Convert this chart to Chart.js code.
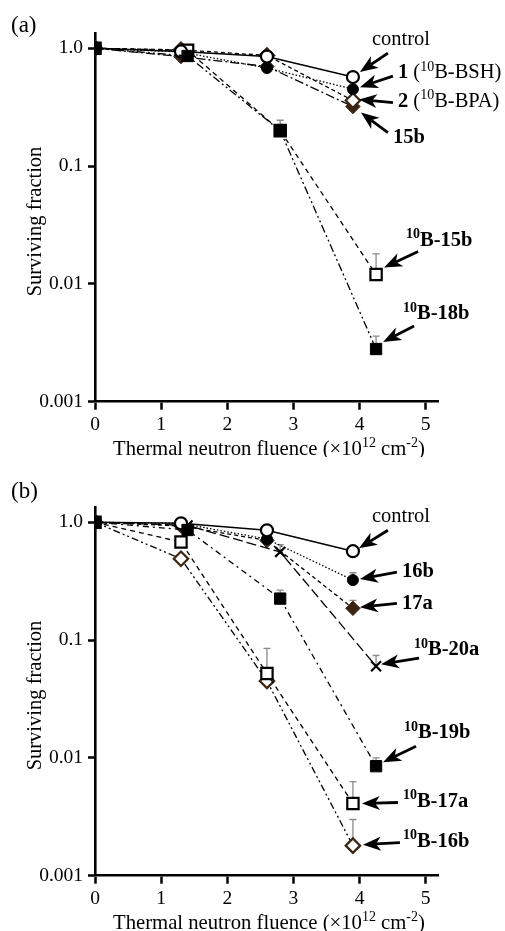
<!DOCTYPE html>
<html><head><meta charset="utf-8">
<script src="https://cdn.jsdelivr.net/npm/chart.js@4/dist/chart.umd.min.js"></script>
<style>
html,body{margin:0;padding:0;background:#fff;overflow:hidden;width:505px;height:931px;}
.panel{position:absolute;left:0;width:505px;height:457px;}
</style></head><body>
<div class="panel" style="top:0"><canvas id="ca"></canvas></div>
<div class="panel" style="top:474px"><canvas id="cb"></canvas></div>
<script>
// ---------- data ----------
const xTicks = [0, 1, 2, 3, 4, 5];
const yTicks = [0.001, 0.01, 0.1, 1];
const yTickLabels = ['0.001', '0.01', '0.1', '1.0'];
const xTitle = [['Thermal neutron fluence (\u00d710', ''], ['12', 's'], [' cm', ''], ['-2', 's'], [')', '']];
const yTitle = 'Surviving fraction';

const fluenceA = [0, 1.3, 2.6, 3.9];
const fluenceB = [0, 1.4, 2.8, 4.25];

// panel (a)
const aControl = [1, 0.94, 0.85, 0.57];
const aBSH     = [1, 0.93, 0.68, 0.45];
const aBPA     = [1, 0.97, 0.87, 0.36];
const a15b     = [1, 0.85, 0.70, 0.32];
const a10B15b  = [1, 0.96, 0.20, 0.012];
const a10B18b  = [1, 0.86, 0.20, 0.0028];
const a10B15bErr = [null, null, null, 0.018];
const a10B18bErr = [null, null, 0.245, 0.0036];

// panel (b)
const bControl = [1, 0.98, 0.855, 0.568];
const b16b     = [1, 0.98, 0.72, 0.323];
const b17a     = [1, 0.93, 0.70, 0.186];
const b10B20a  = [1, 0.94, 0.56, 0.060];
const b10B19b  = [1, 0.86, 0.225, 0.0085];
const b10B17a  = [1, 0.68, 0.052, 0.0041];
const b10B16b  = [1, 0.49, 0.045, 0.0018];
const b16bErr    = [null, null, null, 0.373];
const b17aErr    = [null, null, null, 0.217];
const b10B20aErr = [null, null, 0.647, 0.074];
const b10B19bErr = [null, null, 0.266, 0.0100];
const b10B17aErr = [null, null, 0.085, 0.0063];
const b10B16bErr = [null, null, null, 0.0030];

// series labels (rich text parts: [text, style]; style: '' normal, 'b' bold, 's' sup, 'bs' bold sup)
const lblControl = [['control', '']];
const lblBSH = [['1', 'b'], [' (', ''], ['10', 's'], ['B-BSH)', '']];
const lblBPA = [['2', 'b'], [' (', ''], ['10', 's'], ['B-BPA)', '']];
const lbl15b = [['15b', 'b']];
const lbl10B15b = [['10', 'bs'], ['B-15b', 'b']];
const lbl10B18b = [['10', 'bs'], ['B-18b', 'b']];
const lbl16b = [['16b', 'b']];
const lbl17a = [['17a', 'b']];
const lbl10B20a = [['10', 'bs'], ['B-20a', 'b']];
const lbl10B19b = [['10', 'bs'], ['B-19b', 'b']];
const lbl10B17a = [['10', 'bs'], ['B-17a', 'b']];
const lbl10B16b = [['10', 'bs'], ['B-16b', 'b']];

// ---------- styling ----------
const FONT = "'Liberation Serif', 'Times New Roman', serif";
const BROWN = '#3b2412';
const ERR = '#8a8a8a';
const LBL = 20.5, SUP = 14;

function pts(xs, ys) { return xs.map((x, i) => ({ x: x, y: ys[i] })); }

function ds(xs, ys, err, style, ann) {
  return Object.assign({
    data: pts(xs, ys),
    errTop: err,
    ann: ann,
    borderColor: '#000',
    borderWidth: 1.3,
    tension: 0,
    pointBorderWidth: 2,
    pointHoverRadius: 0,
    fill: false
  }, style);
}

const sOpenCircle = { pointStyle: 'circle', pointRadius: 6, pointBackgroundColor: '#fff', pointBorderColor: '#000', pointBorderWidth: 2.2 };
const sFillCircle = { pointStyle: 'circle', pointRadius: 5.5, pointBackgroundColor: '#000', pointBorderColor: '#000', pointBorderWidth: 1 };
const sOpenDiamond = { pointStyle: 'rectRot', pointRadius: 7.2, pointBackgroundColor: '#fff', pointBorderColor: BROWN, pointBorderWidth: 2.2 };
const sFillDiamond = { pointStyle: 'rectRot', pointRadius: 7.2, pointBackgroundColor: BROWN, pointBorderColor: BROWN, pointBorderWidth: 1 };
const sOpenSquare = { pointStyle: 'rect', pointRadius: 8, pointBackgroundColor: '#fff', pointBorderColor: '#000', pointBorderWidth: 2.2 };
const sFillSquare = { pointStyle: 'rect', pointRadius: 8, pointBackgroundColor: '#000', pointBorderColor: '#000', pointBorderWidth: 1 };
const sCross = { pointStyle: 'crossRot', pointRadius: 7, pointBackgroundColor: '#000', pointBorderColor: '#000', pointBorderWidth: 2.2 };

function mk(o1, o2) { return Object.assign({}, o1, o2); }

const datasetsA = [
  ds(fluenceB, a10B18b, a10B18bErr, mk(sFillSquare, { borderDash: [8, 3, 2, 3, 2, 3], order: 0 }),
     { label: lbl10B18b, tip: [7, -7], tail: [38, -23], text: [27, -30] }),
  ds(fluenceA, aControl, null, mk(sOpenCircle, { borderDash: [], order: 1, borderWidth: 1.5 }),
     { label: lblControl, tip: [7, -5], tail: [35, -24], text: [19, -32] }),
  ds(fluenceB, a10B15b, a10B15bErr, mk(sOpenSquare, { borderDash: [5, 4], order: 2 }),
     { label: lbl10B15b, tip: [8, -7], tail: [42, -23], text: [30, -29] }),
  ds(fluenceA, aBSH, null, mk(sFillCircle, { borderDash: [1.5, 2], order: 3 }),
     { label: lblBSH, tip: [7, -2], tail: [40, -13], text: [45, -11] }),
  ds(fluenceA, aBPA, null, mk(sOpenDiamond, { borderDash: [4, 3], order: 4 }),
     { label: lblBPA, tip: [6, -1], tail: [40, 2], text: [45, 6] }),
  ds(fluenceA, a15b, null, mk(sFillDiamond, { borderDash: [9, 3, 2, 3], order: 5 }),
     { label: lbl15b, tip: [8, 6], tail: [35, 26], text: [40, 36] })
];

const datasetsB = [
  ds(fluenceB, b10B19b, b10B19bErr, mk(sFillSquare, { borderDash: [6, 4, 2, 4], order: 0 }),
     { label: lbl10B19b, tip: [7, -4], tail: [40, -20], text: [28, -28] }),
  ds(fluenceA, bControl, null, mk(sOpenCircle, { borderDash: [], order: 1, borderWidth: 1.5 }),
     { label: lblControl, tip: [6, -3], tail: [35, -21], text: [19, -29] }),
  ds(fluenceB, b10B20a, b10B20aErr, mk(sCross, { borderDash: [10, 4], order: 2 }),
     { label: lbl10B20a, tip: [5, -2], tail: [43, -8], text: [38, -11] }),
  ds(fluenceA, b16b, b16bErr, mk(sFillCircle, { borderDash: [1.5, 2], order: 3 }),
     { label: lbl16b, tip: [7, -1], tail: [44, -8], text: [49, -3] }),
  ds(fluenceA, b17a, b17aErr, mk(sFillDiamond, { borderDash: [4, 3], order: 4 }),
     { label: lbl17a, tip: [7, -1], tail: [44, -5], text: [49, 1] }),
  ds(fluenceA, b10B17a, b10B17aErr, mk(sOpenSquare, { borderDash: [5, 4], order: 5 }),
     { label: lbl10B17a, tip: [9, 0], tail: [45, -1], text: [50, 3] }),
  ds(fluenceA, b10B16b, b10B16bErr, mk(sOpenDiamond, { borderDash: [7, 3, 2, 3, 2, 3], order: 6 }),
     { label: lbl10B16b, tip: [10, -1], tail: [47, -3], text: [50, 1] })
];

// ---------- drawing helpers ----------
function richWidth(ctx, parts, size, supSize) {
  let w = 0;
  parts.forEach(p => {
    const bold = p[1].indexOf('b') >= 0, sup = p[1].indexOf('s') >= 0;
    ctx.font = (bold ? 'bold ' : '') + (sup ? supSize : size) + 'px ' + FONT;
    w += ctx.measureText(p[0]).width;
  });
  return w;
}
function drawRich(ctx, parts, x, y, size, supSize, raise) {
  ctx.textAlign = 'left';
  ctx.textBaseline = 'alphabetic';
  ctx.fillStyle = '#000';
  parts.forEach(p => {
    const bold = p[1].indexOf('b') >= 0, sup = p[1].indexOf('s') >= 0;
    ctx.font = (bold ? 'bold ' : '') + (sup ? supSize : size) + 'px ' + FONT;
    ctx.fillText(p[0], x, sup ? y - raise : y);
    x += ctx.measureText(p[0]).width;
  });
}
function drawArrow(ctx, x0, y0, x1, y1) {
  const ang = Math.atan2(y1 - y0, x1 - x0);
  const L = 18, W = 7, N = 5;
  const bx = x1 - Math.cos(ang) * L, by = y1 - Math.sin(ang) * L;
  const nx = x1 - Math.cos(ang) * (L - N), ny = y1 - Math.sin(ang) * (L - N);
  ctx.save();
  ctx.strokeStyle = '#000';
  ctx.fillStyle = '#000';
  ctx.lineWidth = 2.8;
  ctx.setLineDash([]);
  ctx.beginPath();
  ctx.moveTo(x0, y0);
  ctx.lineTo(nx, ny);
  ctx.stroke();
  ctx.beginPath();
  ctx.moveTo(x1, y1);
  ctx.lineTo(bx - Math.sin(ang) * W, by + Math.cos(ang) * W);
  ctx.lineTo(nx, ny);
  ctx.lineTo(bx + Math.sin(ang) * W, by - Math.cos(ang) * W);
  ctx.closePath();
  ctx.fill();
  ctx.restore();
}

const errPlugin = {
  id: 'errbars',
  beforeDatasetsDraw(chart) {
    const ctx = chart.ctx, xs = chart.scales.x, ys = chart.scales.y;
    ctx.save();
    ctx.strokeStyle = ERR;
    ctx.lineWidth = 1.3;
    ctx.setLineDash([]);
    chart.data.datasets.forEach(d => {
      if (!d.errTop) return;
      d.errTop.forEach((e, i) => {
        if (e == null) return;
        const px = xs.getPixelForValue(d.data[i].x);
        const py = ys.getPixelForValue(d.data[i].y);
        const pe = ys.getPixelForValue(e);
        ctx.beginPath();
        ctx.moveTo(px, py);
        ctx.lineTo(px, pe);
        ctx.moveTo(px - 3.5, pe);
        ctx.lineTo(px + 3.5, pe);
        ctx.stroke();
      });
    });
    ctx.restore();
  }
};

const decoPlugin = {
  id: 'deco',
  afterDraw(chart) {
    const ctx = chart.ctx, xs = chart.scales.x, ys = chart.scales.y, ca = chart.chartArea;
    const o = chart.options.plugins.deco;
    ctx.save();
    // annotations with arrows
    chart.data.datasets.forEach(d => {
      const a = d.ann;
      if (!a) return;
      const last = d.data[d.data.length - 1];
      const px = xs.getPixelForValue(last.x), py = ys.getPixelForValue(last.y);
      drawArrow(ctx, px + a.tail[0], py + a.tail[1], px + a.tip[0], py + a.tip[1]);
      drawRich(ctx, a.label, px + a.text[0], py + a.text[1], LBL, SUP, 7.5);
    });
    // x title
    const w = richWidth(ctx, xTitle, 20.7, 14);
    drawRich(ctx, xTitle, (ca.left + ca.right) / 2 - w / 2 + 2, ca.bottom + 53.5, 20.7, 14, 8.5);
    // y title
    ctx.save();
    ctx.translate(41, (ca.top + ca.bottom) / 2 + 4);
    ctx.rotate(-Math.PI / 2);
    ctx.font = '20.5px ' + FONT;
    ctx.textAlign = 'center';
    ctx.textBaseline = 'alphabetic';
    ctx.fillStyle = '#000';
    ctx.fillText(yTitle, 0, 0);
    ctx.restore();
    // panel label
    ctx.font = '23px ' + FONT;
    ctx.textAlign = 'left';
    ctx.textBaseline = 'alphabetic';
    ctx.fillStyle = '#000';
    ctx.fillText(o.panel, 11, o.panelY);
    ctx.restore();
  }
};

function makeChart(id, datasets, panel, panelY) {
  return new Chart(document.getElementById(id), {
    type: 'line',
    data: { datasets: datasets },
    plugins: [errPlugin, decoPlugin],
    options: {
      responsive: true,
      maintainAspectRatio: false,
      devicePixelRatio: 1,
      animation: false,
      events: [],
      layout: { padding: { top: 33.3, right: 66.1, left: 0, bottom: 0 } },
      plugins: {
        legend: { display: false },
        tooltip: { enabled: false },
        deco: { panel: panel, panelY: panelY }
      },
      scales: {
        x: {
          type: 'linear', min: 0, max: 5.2,
          afterBuildTicks: s => { s.ticks = xTicks.map(v => ({ value: v })); },
          afterFit: s => { s.height = 457 - 401.7; },
          ticks: { font: { family: FONT, size: 19.5 }, color: '#000', padding: 3, maxRotation: 0, autoSkip: false,
                   callback: v => String(v) },
          grid: { display: true, drawOnChartArea: false, drawTicks: true, tickLength: 8, tickWidth: 2.5, tickColor: '#000', color: '#000' },
          border: { display: true, color: '#000', width: 2.6 }
        },
        y: {
          type: 'logarithmic', min: 0.001, max: 1.34,
          afterBuildTicks: s => { s.ticks = yTicks.map(v => ({ value: v })); },
          afterFit: s => { s.width = 95; },
          ticks: { font: { family: FONT, size: 19.5 }, color: '#000', padding: 5, autoSkip: false,
                   callback: (v, i) => yTickLabels[i] },
          grid: { display: true, drawOnChartArea: false, drawTicks: true, tickLength: 7, tickWidth: 2.5, tickColor: '#000', color: '#000' },
          border: { display: true, color: '#000', width: 2.6 }
        }
      }
    }
  });
}

makeChart('ca', datasetsA, '(a)', 32);
makeChart('cb', datasetsB, '(b)', 24);
</script>
</body></html>
